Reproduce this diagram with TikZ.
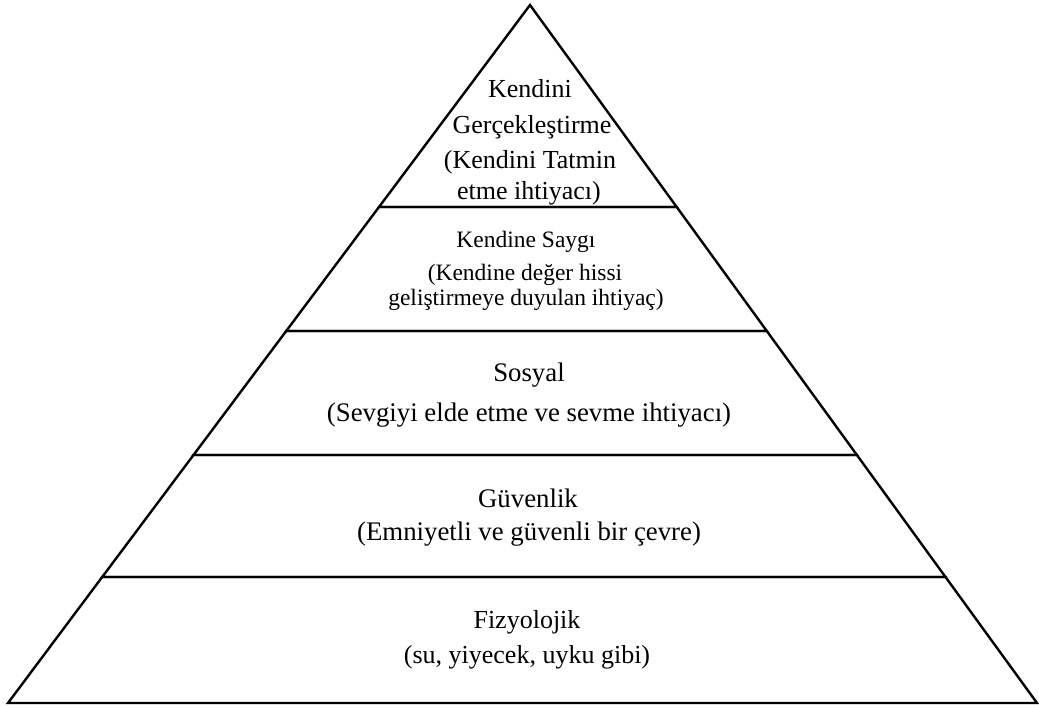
\documentclass[tikz,border=0pt]{standalone}
\usepackage{fontspec}
\setmainfont{Liberation Serif}
\tikzset{
  tier/.style={draw=black, line width=2.4pt, line join=miter},
  lbl/.style={anchor=base, inner sep=0pt, font=\fontsize{26}{30}\selectfont},
  lblmid/.style={anchor=base, inner sep=0pt, font=\fontsize{26.8}{30}\selectfont},
  lblsmall/.style={anchor=base, inner sep=0pt, font=\fontsize{23.5}{27}\selectfont},
}
\begin{document}
\begin{tikzpicture}[x=1pt,y=-1pt]
\useasboundingbox (0,0) rectangle (1039,707);

% corner points of the pyramid levels
\coordinate (apex) at (530,5);
\coordinate (l1) at (379.0,207);   \coordinate (r1) at (676.7,207);
\coordinate (l2) at (286.2,331);   \coordinate (r2) at (766.8,331);
\coordinate (l3) at (193.5,455);   \coordinate (r3) at (856.9,455);
\coordinate (l4) at (102.2,577);   \coordinate (r4) at (945.5,577);
\coordinate (l5) at (8,703);       \coordinate (r5) at (1037,703);

% one closed shape per level
\draw[tier] (apex) -- (r1) -- (l1) -- cycle;
\draw[tier] (l1) -- (r1) -- (r2) -- (l2) -- cycle;
\draw[tier] (l2) -- (r2) -- (r3) -- (l3) -- cycle;
\draw[tier] (l3) -- (r3) -- (r4) -- (l4) -- cycle;
\draw[tier] (l4) -- (r4) -- (r5) -- (l5) -- cycle;

% level 1: self-actualisation
\node[lbl] (t1a) at (530,97)  {Kendini};
\node[lbl] (t1b) at (532,133) {Gerçekleştirme};
\node[lbl] (t1c) at (530,168) {(Kendini Tatmin};
\node[lbl] (t1d) at (529,199) {etme ihtiyacı)};

% level 2: esteem
\node[lblsmall] (t2a) at (526,247) {Kendine Saygı};
\node[lblsmall] (t2b) at (525,280) {(Kendine değer hissi};
\node[lblsmall] (t2c) at (526,305) {geliştirmeye duyulan ihtiyaç)};

% level 3: social
\node[lblmid] (t3a) at (529,381) {Sosyal};
\node[lblmid] (t3b) at (529,421) {(Sevgiyi elde etme ve sevme ihtiyacı)};

% level 4: safety
\node[lblmid] (t4a) at (528,507) {Güvenlik};
\node[lblmid] (t4b) at (529,540) {(Emniyetli ve güvenli bir çevre)};

% level 5: physiological
\node[lbl] (t5a) at (527,628) {Fizyolojik};
\node[lbl] (t5b) at (527,663) {(su, yiyecek, uyku gibi)};
\end{tikzpicture}
\end{document}
